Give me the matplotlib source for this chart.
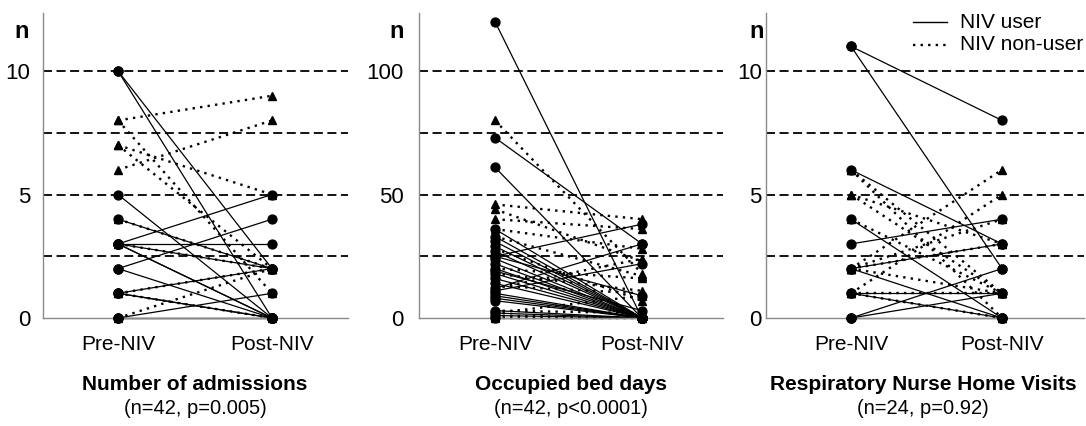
import matplotlib
matplotlib.use("Agg")
import matplotlib.pyplot as plt
from matplotlib.lines import Line2D

plt.rcParams['font.family'] = ['Liberation Sans Narrow', 'Liberation Sans', 'DejaVu Sans']

# ---- data: (pre, post) per patient, group = user / non ----
adm_pre   = [10, 10, 5, 4, 3, 3, 3, 3, 2, 2, 1, 1, 0, 0, 3, 1, 0,
             8, 6, 8, 7, 7, 4, 3, 1, 1, 0]
adm_post  = [2, 0, 0, 2, 5, 3, 2, 0, 4, 0, 2, 0, 1, 0, 0, 0, 0,
             9, 8, 1, 5, 2, 2, 2, 2, 0, 2]
adm_group = ['user'] * 17 + ['non'] * 10

bed_pre   = [120, 73, 61, 36, 33, 31, 29, 27, 25, 24, 22, 20, 18, 16, 14, 12, 11,
             10, 9, 8, 7, 3, 2, 1, 0, 25, 19,
             80, 46, 44, 40, 36, 33, 28, 20, 18, 13, 12, 3, 2, 1, 0]
bed_post  = [0, 30, 0, 0, 0, 0, 0, 0, 38, 0, 0, 0, 0, 0, 0, 30, 22,
             0, 0, 0, 0, 0, 0, 0, 0, 9, 3,
             18, 40, 23, 36, 28, 17, 7, 16, 11, 10, 24, 2, 9, 0, 0]
bed_group = ['user'] * 27 + ['non'] * 15

hv_pre   = [11, 11, 6, 4, 3, 2, 2, 1, 1, 0, 0, 0,
            6, 5, 5, 4, 2, 1, 2, 2, 2, 1, 1, 6]
hv_post  = [8, 2, 3, 0, 4, 3, 0, 1, 0, 2, 1, 0,
            0, 3, 1, 1, 6, 5, 4, 1, 3, 0, 1, 1]
hv_group = ['user'] * 12 + ['non'] * 12

timepoints = ["Pre-NIV", "Post-NIV"]
titles     = ["Number of admissions", "Occupied bed days", "Respiratory Nurse Home Visits"]
subtitles  = ["(n=42, p=0.005)", "(n=42, p<0.0001)", "(n=24, p=0.92)"]
yticks     = [[0, 5, 10], [0, 50, 100], [0, 5, 10]]
ygrid      = [[2.5, 5, 7.5, 10], [25, 50, 75, 100], [2.5, 5, 7.5, 10]]
legend_lbl = ["NIV user", "NIV non-user"]

W, H = 1086, 426
fig = plt.figure(figsize=(W / 100, H / 100), dpi=100)

# pixel layout of each panel: left, right, x of Pre, x of Post, ymax, label pad
panels = [
    dict(left=43, right=348, xpre=118, xpost=272, ymax=12.35, pad=9, cx=195, nx=22),
    dict(left=419, right=723, xpre=495, xpost=642, ymax=123.5, pad=11, cx=571, nx=397),
    dict(left=766, right=1084, xpre=851, xpost=1002, ymax=12.35, pad=3, cx=923, nx=757),
]
top_px, bot_px = 13, 318

datasets = [(adm_pre, adm_post, adm_group),
            (bed_pre, bed_post, bed_group),
            (hv_pre, hv_post, hv_group)]

DOT = (0, (1, 2.2))
styles = {
    'user': dict(ls='-', lw=0.9, marker='o', ms=6.4),
    'non':  dict(ls=DOT, lw=1.7, marker='^', ms=6.4),
}

for i, (p, (pre, post, grp)) in enumerate(zip(panels, datasets)):
    ax = fig.add_axes([p['left'] / W, 1 - bot_px / H,
                       (p['right'] - p['left']) / W, (bot_px - top_px) / H])
    unit = p['xpost'] - p['xpre']
    ax.set_xlim(-(p['xpre'] - p['left']) / unit, 1 + (p['right'] - p['xpost']) / unit)
    ax.set_ylim(0, p['ymax'])

    for yv in ygrid[i]:
        ax.axhline(yv, color='black', lw=1.3, ls=(0, (5, 2.5)), zorder=1)

    # non-users first, users on top
    for want in ['non', 'user']:
        st = styles[want]
        for a, b, g in zip(pre, post, grp):
            if g != want:
                continue
            ax.plot([0, 1], [a, b], color='black', ls=st['ls'], lw=st['lw'],
                    zorder=2, clip_on=False)
            ax.plot([0, 1], [a, b], ls='none', marker=st['marker'], ms=st['ms'],
                    color='black', zorder=3, clip_on=False)

    ax.set_xticks([0, 1])
    ax.set_xticklabels(timepoints, fontsize=15)
    ax.set_yticks(yticks[i])
    ax.tick_params(axis='y', length=0, pad=p['pad'], labelsize=16)
    ax.tick_params(axis='x', length=0, pad=12)
    for s in ['top', 'right']:
        ax.spines[s].set_visible(False)
    for s in ['left', 'bottom']:
        ax.spines[s].set_color('#8a8a8a')
        ax.spines[s].set_linewidth(1.0)
    ax.patch.set_alpha(0)

    fig.text(p['cx'] / W, 1 - 384 / H, titles[i], ha='center', va='center',
             fontsize=15, fontweight='bold')
    fig.text(p['cx'] / W, 1 - 408 / H, subtitles[i], ha='center', va='center',
             fontsize=14.5)
    fig.text(p['nx'] / W, 1 - 32 / H, "n", ha='center', va='center',
             fontsize=17, fontweight='bold')

# legend drawn by hand in pixel positions
for (ls, lw), lbl, ypx in zip([('-', 1.0), (DOT, 1.7)], legend_lbl, [22, 45]):
    fig.add_artist(Line2D([913 / W, 947 / W], [1 - ypx / H] * 2,
                          color='black', ls=ls, lw=lw))
    fig.text(960 / W, 1 - ypx / H, lbl, ha='left', va='center', fontsize=15)

fig.savefig("out.png", dpi=100)
